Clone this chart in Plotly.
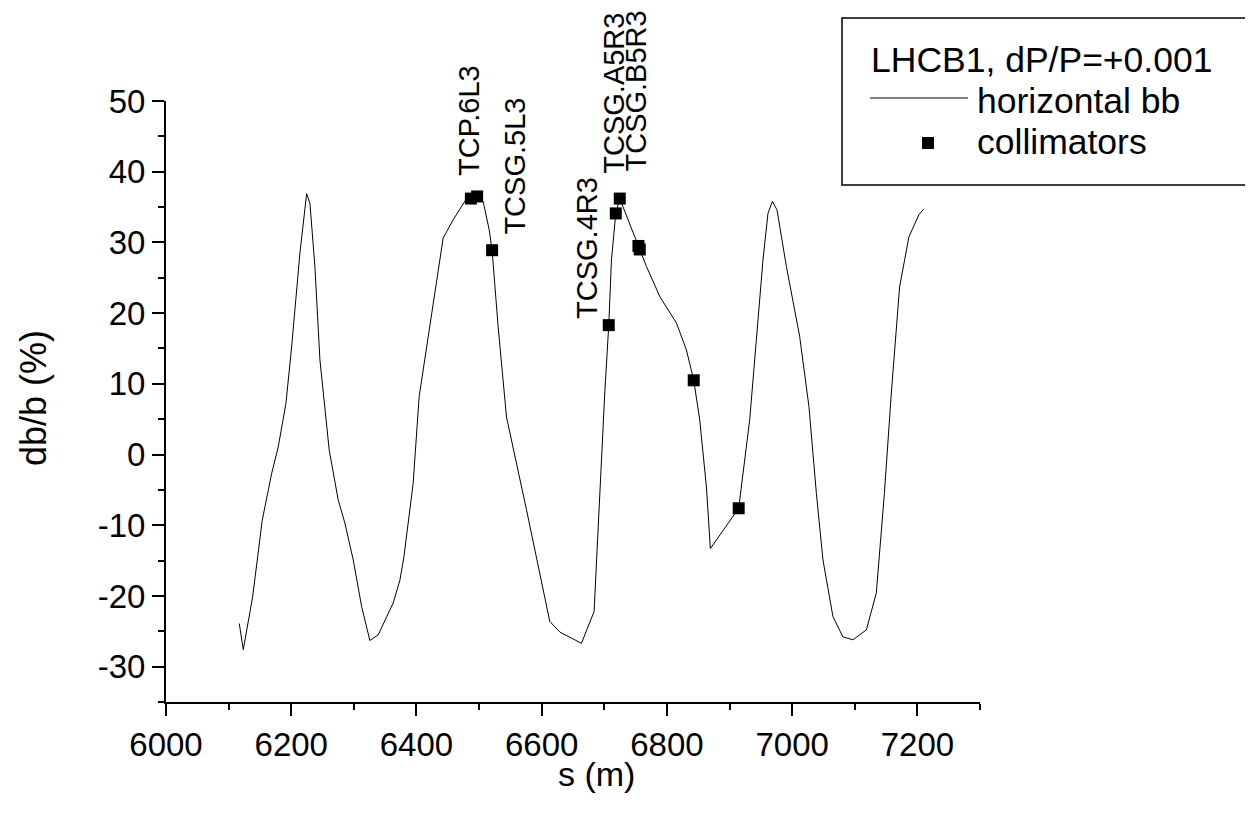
import plotly.graph_objects as go

# ---- data ----
s_curve = [6117.0, 6123.4, 6138.4, 6153.7, 6168.7, 6179.3, 6191.5, 6200.6, 6213.9, 6224.6,
           6229.9, 6237.8, 6245.8, 6260.7, 6275.0, 6285.7, 6299.0, 6312.4, 6325.6, 6338.9,
           6362.8, 6373.5, 6379.9, 6394.7, 6404.3, 6442.6, 6458.6, 6480.0, 6496.9, 6506.5,
           6516.1, 6520.8, 6530.4, 6543.8, 6575.7, 6612.9, 6628.9, 6663.5, 6683.7, 6692.8,
           6700.7, 6707.1, 6711.4, 6718.3, 6724.7, 6730.0, 6755.5, 6767.3, 6788.9, 6815.2,
           6831.1, 6842.8, 6852.4, 6863.1, 6869.4, 6914.6, 6932.2, 6942.9, 6953.4, 6961.4,
           6968.4, 6975.8, 6990.8, 7012.0, 7026.8, 7038.7, 7049.2, 7065.1, 7081.1, 7097.1,
           7118.5, 7134.4, 7147.3, 7158.4, 7171.6, 7186.5, 7202.4, 7209.9]
db_curve = [-23.9, -27.6, -20.1, -9.3, -2.7, 1.1, 7.2, 15.2, 28.5, 36.9,
            35.5, 26.6, 13.4, 0.6, -6.4, -9.7, -14.9, -21.5, -26.3, -25.5,
            -21.0, -17.8, -14.5, -4.1, 8.2, 30.6, 33.2, 36.2, 36.7, 35.8,
            31.8, 28.9, 18.1, 5.3, -7.8, -23.6, -25.1, -26.7, -22.2, -5.5,
            8.7, 18.3, 27.5, 34.1, 36.2, 35.0, 29.2, 26.6, 22.3, 18.6,
            14.8, 10.5, 4.9, -4.6, -13.3, -7.6, 4.9, 15.7, 27.5, 34.1,
            35.8, 34.6, 26.6, 16.7, 6.8, -5.5, -14.9, -22.9, -25.8, -26.2,
            -24.8, -19.6, -5.5, 8.7, 23.7, 30.8, 33.9, 34.7]

coll_s = [6486.9, 6496.9, 6520.8, 6707.1, 6718.3, 6724.7, 6754.5, 6756.6, 6842.8, 6914.6]
coll_db = [36.2, 36.5, 28.9, 18.3, 34.1, 36.2, 29.5, 29.0, 10.5, -7.6]

label_names = ["TCP.6L3", "TCSG.5L3", "TCSG.4R3", "TCSG.A5R3", "TCSG.B5R3"]
label_s = [6483.6, 6557.0, 6672.0, 6715.0, 6750.0]
label_db = [39.3, 31.0, 19.0, 39.6, 39.9]

x_tickvals = [6000, 6200, 6400, 6600, 6800, 7000, 7200]
x_ticktext = ["6000", "6200", "6400", "6600", "6800", "7000", "7200"]
y_tickvals = [-30, -20, -10, 0, 10, 20, 30, 40, 50]
y_ticktext = ["-30", "-20", "-10", "0", "10", "20", "30", "40", "50"]

FONT = "Liberation Sans, Arial, Helvetica, sans-serif"

# page body has an 8px margin; work in page pixels and convert
OFF = 8
W, H = 1253 - 2 * OFF, 820 - 2 * OFF
L, R, T, B = 166 - OFF, 980 - OFF, 101 - OFF, 702 - OFF


def px(x):
    return (x - OFF - L) / (R - L)


def py(y):
    return (B - (y - OFF)) / (B - T)


fig = go.Figure()
fig.add_trace(go.Scatter(x=s_curve, y=db_curve, mode="lines",
                         line=dict(color="black", width=1), name="horizontal bb",
                         showlegend=False))
fig.add_trace(go.Scatter(x=coll_s, y=coll_db, mode="markers",
                         marker=dict(symbol="square", size=12, color="black"),
                         name="collimators", showlegend=False))

annotations = []
for name, xs, yv in zip(label_names, label_s, label_db):
    annotations.append(dict(x=xs, y=yv, xref="x", yref="y", text=name, textangle=-90,
                            showarrow=False, xanchor="center", yanchor="bottom",
                            borderpad=0,
                            font=dict(family=FONT, size=29, color="black")))

# axis titles
annotations.append(dict(x=px(596), y=py(774), xref="paper", yref="paper", text="s (m)",
                        showarrow=False, xanchor="center", yanchor="middle",
                        font=dict(family=FONT, size=34, color="black")))
annotations.append(dict(x=px(33), y=py(398), xref="paper", yref="paper", text="db/b (%)",
                        textangle=-90, showarrow=False, xanchor="center", yanchor="middle",
                        font=dict(family=FONT, size=36, color="black")))

# legend (drawn manually)
leg_font = dict(family=FONT, size=35.5, color="black")
annotations.append(dict(x=px(869), y=py(60), xref="paper", yref="paper",
                        text="LHCB1, dP/P=+0.001", showarrow=False,
                        xanchor="left", yanchor="middle", font=leg_font))
annotations.append(dict(x=px(975), y=py(101), xref="paper", yref="paper",
                        text="horizontal bb", showarrow=False,
                        xanchor="left", yanchor="middle", font=leg_font))
annotations.append(dict(x=px(975), y=py(142), xref="paper", yref="paper",
                        text="collimators", showarrow=False,
                        xanchor="left", yanchor="middle", font=leg_font))

shapes = [
    dict(type="rect", xref="paper", yref="paper", x0=px(842), x1=px(1320),
         y0=py(185), y1=py(18), line=dict(color="black", width=1.5)),
    dict(type="line", xref="paper", yref="paper", x0=px(870), x1=px(968),
         y0=py(98), y1=py(98), line=dict(color="black", width=1)),
    dict(type="rect", xref="paper", yref="paper", x0=px(922), x1=px(934),
         y0=py(149), y1=py(137), line=dict(width=0), fillcolor="black"),
]

axis_common = dict(showgrid=False, zeroline=False, showline=True, linecolor="black",
                   linewidth=2, ticks="outside", ticklen=12, tickwidth=2,
                   tickcolor="black", tickfont=dict(family=FONT, size=33, color="black"),
                   mirror=False)

fig.update_layout(
    width=W, height=H,
    margin=dict(l=L, r=W - R, t=T, b=H - B, pad=0),
    paper_bgcolor="white", plot_bgcolor="white",
    showlegend=False,
    xaxis=dict(range=[6000, 7300], tickmode="array", tickvals=x_tickvals,
               ticktext=x_ticktext,
               minor=dict(dtick=100, tick0=6000, ticks="outside", ticklen=6,
                          tickwidth=2, tickcolor="black", showgrid=False),
               **axis_common),
    yaxis=dict(range=[-35, 50], tickmode="array", tickvals=y_tickvals,
               ticktext=y_ticktext,
               minor=dict(dtick=5, tick0=0, ticks="outside", ticklen=6,
                          tickwidth=2, tickcolor="black", showgrid=False),
               **axis_common),
    annotations=annotations,
    shapes=shapes,
)

fig.write_html("out.html")
